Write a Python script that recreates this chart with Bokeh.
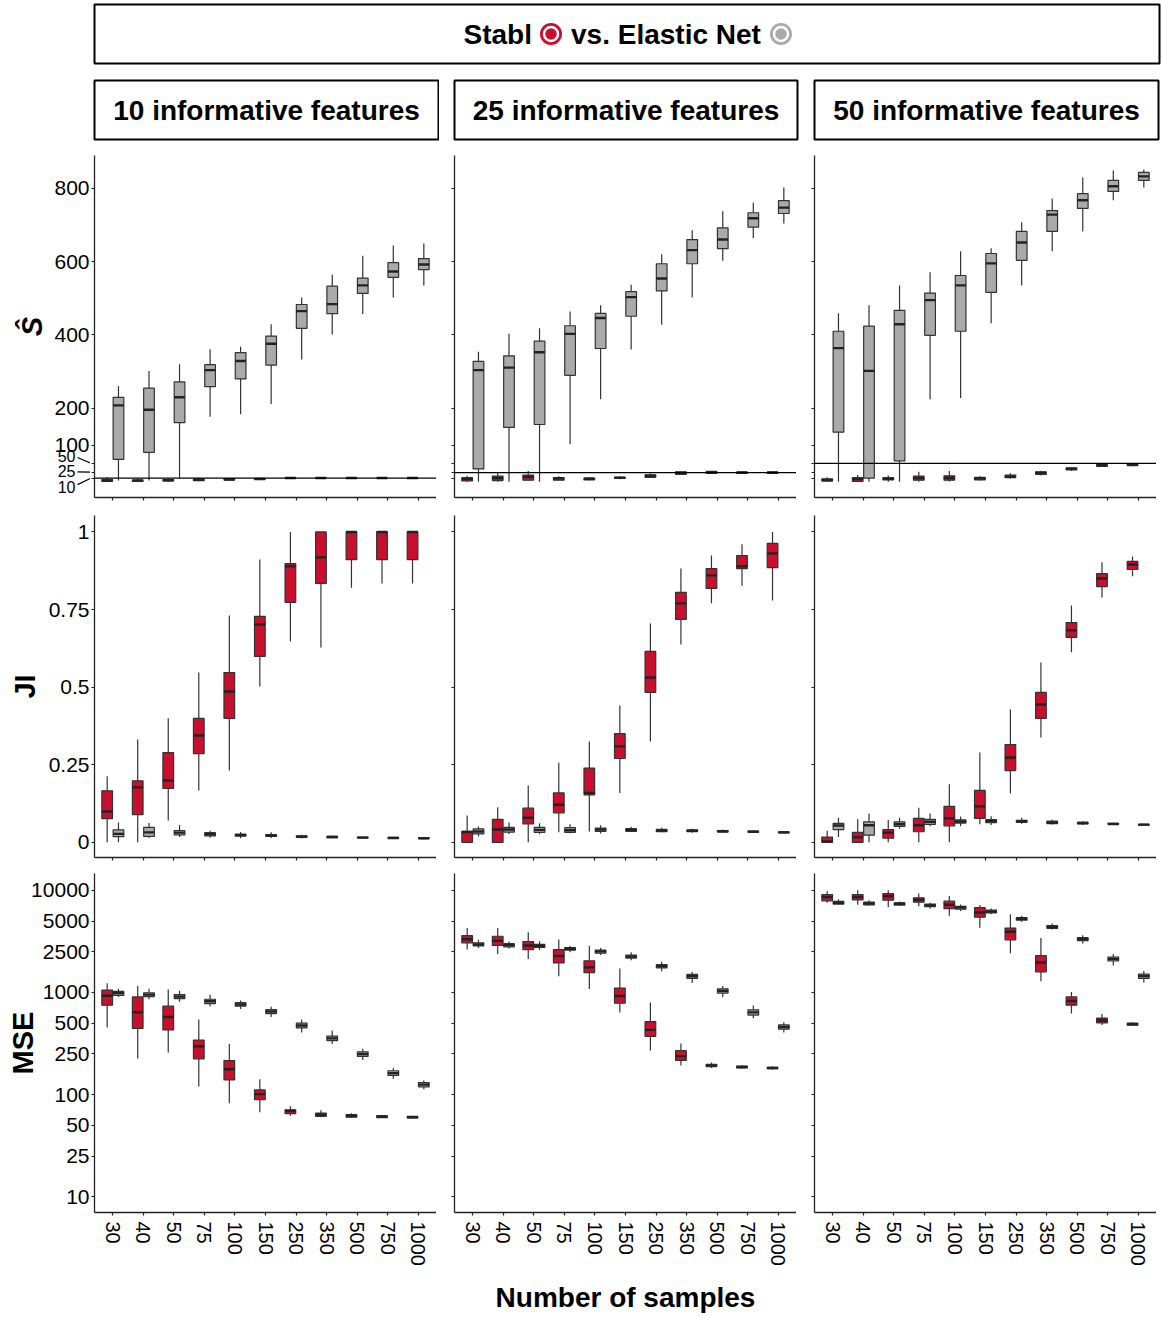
import numpy as np
from bokeh.plotting import figure
from bokeh.models import ColumnDataSource, Range1d, FixedTicker, Span, Spacer
from bokeh.layouts import column, row
from bokeh.core.properties import value
from bokeh.embed import file_html
from bokeh.resources import INLINE

FONT = "Liberation Sans"
RED = "#C8102E"
GREY = "#AAAAAA"
EDGE = "#333333"

samples = ["30", "40", "50", "75", "100", "150", "250", "350", "500", "750", "1000"]
features = [10, 25, 50]
methods = ["Stabl", "Elastic Net"]
metric_titles = ["\u015c", "JI", "MSE"]

# each row: [lower whisker, Q1, median, Q3, upper whisker] per sample size
S_stabl_10 = [[0, 1, 3, 6, 12], [0, 1, 3, 5, 8], [0, 2, 4, 6, 9], [1, 3, 5, 7, 10],
              [3, 5, 6, 8, 10], [5, 6, 7, 9, 10], [8, 9, 10, 10, 11], [9, 10, 10, 10, 11],
              [9, 10, 10, 10, 10], [9, 10, 10, 10, 10], [9, 10, 10, 10, 10]]
S_enet_10 = [[3, 61, 208, 230, 261], [3, 80, 196, 255, 302], [10, 161, 230, 272, 320],
             [177, 259, 304, 319, 361], [184, 280, 329, 352, 368], [212, 318, 376, 397, 429],
             [333, 418, 465, 483, 502], [401, 458, 484, 533, 564], [457, 513, 535, 555, 616],
             [502, 557, 573, 597, 644], [535, 578, 592, 608, 649]]
S_stabl_25 = [[0, 2, 7, 11, 16], [0, 3, 10, 15, 25], [2, 4, 13, 18, 29], [3, 4, 9, 11, 15],
              [3, 5, 8, 10, 13], [7, 9, 11, 12, 15], [11, 12, 16, 19, 23], [18, 20, 24, 27, 28],
              [21, 23, 26, 28, 29], [21, 23, 25, 26, 28], [22, 23, 25, 26, 27]]
S_enet_25 = [[0, 35, 304, 328, 354], [0, 148, 311, 343, 403], [0, 156, 353, 383, 418],
             [102, 290, 403, 425, 464], [225, 363, 446, 459, 481], [360, 451, 503, 518, 537],
             [428, 520, 554, 594, 620], [502, 594, 631, 660, 685], [602, 635, 660, 692, 737],
             [664, 694, 718, 733, 760], [704, 731, 747, 766, 802]]
S_stabl_50 = [[0, 2, 4, 8, 12], [0, 1, 7, 11, 18], [0, 5, 8, 11, 17], [0, 4, 10, 15, 27],
              [0, 4, 10, 16, 29], [3, 5, 9, 12, 15], [9, 11, 14, 18, 23], [17, 20, 24, 27, 30],
              [29, 32, 35, 38, 40], [40, 42, 45, 47, 49], [42, 44, 47, 48, 50]]
S_enet_50 = [[0, 135, 364, 410, 459], [0, 10, 302, 424, 481], [0, 57, 429, 467, 535],
             [225, 399, 495, 514, 571], [228, 410, 535, 562, 628], [432, 516, 595, 622, 636],
             [535, 603, 652, 682, 707], [628, 682, 728, 739, 772], [682, 745, 767, 785, 829],
             [767, 791, 805, 821, 848], [802, 821, 832, 843, 851]]

JI_stabl_10 = [[0, 0.076, 0.099, 0.166, 0.213], [0, 0.089, 0.177, 0.198, 0.331],
               [0.07, 0.174, 0.199, 0.289, 0.40], [0.167, 0.286, 0.344, 0.399, 0.547],
               [0.231, 0.399, 0.486, 0.547, 0.731], [0.502, 0.599, 0.702, 0.728, 0.911],
               [0.647, 0.773, 0.889, 0.898, 1.0], [0.628, 0.834, 0.918, 1.0, 1.0],
               [0.82, 0.911, 1.0, 1.0, 1.0], [0.834, 0.911, 1.0, 1.0, 1.0],
               [0.834, 0.911, 1.0, 1.0, 1.0]]
JI_enet_10 = [[0, 0.018, 0.027, 0.040, 0.064], [0.014, 0.019, 0.032, 0.048, 0.062],
              [0.017, 0.024, 0.031, 0.038, 0.056], [0.015, 0.021, 0.026, 0.031, 0.037],
              [0.013, 0.020, 0.023, 0.026, 0.033], [0.014, 0.019, 0.022, 0.025, 0.032],
              [0.012, 0.016, 0.018, 0.021, 0.024], [0.013, 0.015, 0.017, 0.019, 0.021],
              [0.012, 0.014, 0.015, 0.017, 0.018], [0.011, 0.013, 0.014, 0.016, 0.017],
              [0.010, 0.012, 0.013, 0.015, 0.016]]
JI_stabl_25 = [[0, 0, 0.033, 0.035, 0.086], [0, 0, 0.041, 0.074, 0.113],
               [0, 0.059, 0.079, 0.110, 0.183], [0.032, 0.095, 0.121, 0.159, 0.256],
               [0.035, 0.153, 0.159, 0.239, 0.325], [0.159, 0.27, 0.309, 0.35, 0.441],
               [0.325, 0.483, 0.531, 0.615, 0.705], [0.637, 0.718, 0.77, 0.805, 0.882],
               [0.77, 0.818, 0.86, 0.882, 0.924], [0.827, 0.882, 0.889, 0.924, 0.96],
               [0.779, 0.885, 0.931, 0.963, 1.0]]
JI_enet_25 = [[0.019, 0.027, 0.035, 0.043, 0.051], [0.027, 0.033, 0.041, 0.048, 0.064],
              [0.026, 0.032, 0.040, 0.048, 0.061], [0.029, 0.032, 0.039, 0.047, 0.058],
              [0.028, 0.035, 0.041, 0.046, 0.055], [0.033, 0.035, 0.040, 0.044, 0.050],
              [0.032, 0.034, 0.038, 0.042, 0.047], [0.031, 0.034, 0.037, 0.040, 0.044],
              [0.031, 0.033, 0.036, 0.038, 0.041], [0.030, 0.032, 0.034, 0.036, 0.038],
              [0.029, 0.030, 0.032, 0.034, 0.036]]
JI_stabl_50 = [[0, 0, 0.003, 0.017, 0.037], [0, 0, 0.016, 0.032, 0.074],
               [0, 0.013, 0.031, 0.041, 0.072], [0, 0.034, 0.055, 0.077, 0.111],
               [0, 0.053, 0.077, 0.116, 0.187], [0.058, 0.077, 0.116, 0.167, 0.289],
               [0.157, 0.231, 0.273, 0.315, 0.428], [0.338, 0.399, 0.444, 0.483, 0.579],
               [0.612, 0.66, 0.683, 0.708, 0.763], [0.789, 0.824, 0.85, 0.866, 0.902],
               [0.857, 0.879, 0.895, 0.905, 0.921]]
JI_enet_50 = [[0.017, 0.041, 0.054, 0.061, 0.079], [0, 0.023, 0.055, 0.066, 0.093],
              [0.044, 0.051, 0.058, 0.066, 0.079], [0.052, 0.058, 0.066, 0.074, 0.093],
              [0.052, 0.062, 0.067, 0.072, 0.083], [0.056, 0.063, 0.068, 0.073, 0.084],
              [0.060, 0.064, 0.068, 0.071, 0.079], [0.057, 0.060, 0.064, 0.068, 0.073],
              [0.056, 0.059, 0.062, 0.064, 0.068], [0.056, 0.058, 0.059, 0.061, 0.063],
              [0.054, 0.055, 0.057, 0.058, 0.060]]

MSE_stabl_10 = [[454, 750, 929, 1055, 1233], [226, 444, 639, 904, 1153], [258, 429, 574, 733, 1070],
                [120, 224, 297, 342, 542], [82, 139, 177, 215, 313], [67, 89, 101, 111, 141],
                [62, 65, 69, 71, 77], [60, 61.2, 63.5, 65.7, 70], [59, 60, 62, 63.5, 65.7],
                [59, 59.5, 61, 62, 63], [58.5, 59, 60, 61, 62]]
MSE_enet_10 = [[904, 936, 986, 1023, 1085], [857, 910, 951, 993, 1085], [808, 870, 910, 951, 1037],
               [728, 778, 819, 857, 951], [687, 733, 761, 794, 835], [576, 621, 650, 680, 725],
               [404, 450, 474, 500, 542], [313, 338, 355, 374, 424], [218, 236, 249, 262, 281],
               [143, 154, 162, 171, 182], [113, 119, 125, 131, 137]]
MSE_stabl_25 = [[2637, 3062, 3318, 3597, 4275], [2377, 2884, 3200, 3548, 4275],
                [2128, 2619, 2884, 3148, 3880], [1440, 1945, 2274, 2619, 3296],
                [1080, 1561, 1757, 2038, 2850], [637, 783, 923, 1102, 1718],
                [270, 371, 430, 518, 796], [192, 216, 238, 270, 316], [182, 188, 193, 198, 206],
                [180, 182, 186, 190, 194], [176, 179, 182, 185, 188]]
MSE_enet_25 = [[2717, 2862, 2948, 3062, 3272], [2690, 2798, 2905, 3012, 3148],
               [2595, 2753, 2850, 2948, 3172], [2480, 2595, 2680, 2753, 2850],
               [2320, 2425, 2520, 2595, 2717], [2060, 2167, 2240, 2320, 2480],
               [1615, 1740, 1805, 1875, 1995], [1237, 1374, 1440, 1503, 1584],
               [898, 986, 1037, 1086, 1153], [557, 600, 637, 676, 745], [404, 437, 458, 481, 511]]
MSE_stabl_50 = [[7550, 7880, 8570, 9084, 9780], [7210, 8050, 8570, 9084, 10000],
                [6810, 8010, 8750, 9290, 10000], [6960, 7650, 8050, 8430, 9290],
                [5617, 6600, 7210, 7830, 8790], [4300, 5450, 6060, 6760, 7170],
                [2425, 3270, 3930, 4270, 5830], [1286, 1590, 1965, 2290, 3420],
                [620, 750, 825, 904, 1010], [481, 502, 531, 561, 615], [470, 478, 489, 500, 511]]
MSE_enet_50 = [[7270, 7330, 7550, 7780, 8180], [7100, 7210, 7420, 7650, 8010],
               [7050, 7170, 7380, 7550, 7780], [6600, 6900, 7100, 7330, 7550],
               [6280, 6520, 6760, 6960, 7270], [5830, 6000, 6200, 6410, 6650],
               [4900, 5100, 5260, 5400, 5620], [4120, 4240, 4370, 4500, 4720],
               [3020, 3210, 3330, 3440, 3630], [1830, 2030, 2120, 2220, 2380],
               [1250, 1375, 1445, 1510, 1620]]

S_ticks = [10, 25, 50, 100, 200, 400, 600, 800]
JI_ticks = [0, 0.25, 0.5, 0.75, 1]
MSE_ticks = [10, 25, 50, 100, 250, 500, 1000, 2500, 5000, 10000]

panel_data = [
    [(S_stabl_10, S_enet_10), (S_stabl_25, S_enet_25), (S_stabl_50, S_enet_50)],
    [(JI_stabl_10, JI_enet_10), (JI_stabl_25, JI_enet_25), (JI_stabl_50, JI_enet_50)],
    [(MSE_stabl_10, MSE_enet_10), (MSE_stabl_25, MSE_enet_25), (MSE_stabl_50, MSE_enet_50)],
]

# ---------------- layout constants (pixels) ----------------
LEFT, GAP, PW, PH = 94, 18, 342, 342
GUTTER = 90
FIG_W = [LEFT + PW, GAP + PW, GAP + PW]
BORDER_L = [LEFT, GAP, GAP]
TOPS = [14, 9, 8]
BOTS = [9, 8, 100]
DODGE, BW = 0.185, 0.35


def no_grid(p):
    for g in list(p.center):
        g.visible = False


def style_axis(ax):
    ax.axis_line_color = "#222222"
    ax.axis_line_width = 1.3
    ax.major_tick_line_color = "#222222"
    ax.major_tick_line_width = 1.2
    ax.major_tick_in = 0
    ax.major_tick_out = 3
    ax.minor_tick_line_color = None
    ax.major_label_text_font = FONT
    ax.major_label_text_color = "black"
    ax.major_label_standoff = 2
    ax.axis_label_text_font = FONT
    ax.axis_label_text_color = "black"


def hide_labels(ax, ticks):
    ax.major_label_overrides = {t: "" for t in ticks}
    ax.major_label_text_font_size = "1px"
    ax.major_label_text_color = None
    ax.major_label_standoff = 0


def y_range_for(r):
    return [Range1d(-43, 889), Range1d(-0.049, 1.053), Range1d(7.0, 14600)][r]


def build_panel(r, c, yr):
    stabl, enet = panel_data[r][c]
    bl = 4 if (r == 0 and c == 0) else BORDER_L[c]
    w = bl + PW if c == 0 else FIG_W[c]
    p = figure(width=w, height=TOPS[r] + PH + BOTS[r],
               x_range=Range1d(0.4, len(samples) + 0.6), y_range=yr,
               y_axis_type="log" if r == 2 else "linear",
               output_backend="svg", toolbar_location=None,
               min_border_left=bl, min_border_right=0,
               min_border_top=TOPS[r], min_border_bottom=BOTS[r])
    p.outline_line_color = None
    no_grid(p)

    idx = np.arange(1, len(samples) + 1)
    xs = np.concatenate([idx - DODGE, idx + DODGE])
    arr = np.array(stabl + enet, dtype=float)
    src = ColumnDataSource(dict(
        x=xs, lw=arr[:, 0], q1=arr[:, 1], med=arr[:, 2], q3=arr[:, 3], uw=arr[:, 4],
        xl=xs - BW / 2, xr=xs + BW / 2,
        color=[RED] * len(stabl) + [GREY] * len(enet)))

    if r == 0:
        p.add_layout(Span(location=features[c], dimension="width",
                          line_color="black", line_width=1.3))

    p.segment(x0="x", y0="lw", x1="x", y1="q1", source=src, line_color=EDGE, line_width=1.2)
    p.segment(x0="x", y0="q3", x1="x", y1="uw", source=src, line_color=EDGE, line_width=1.2)
    p.vbar(x="x", width=BW, bottom="q1", top="q3", source=src,
           fill_color="color", line_color=EDGE, line_width=1.2)
    p.segment(x0="xl", y0="med", x1="xr", y1="med", source=src,
              line_color="#222222", line_width=2.4)

    xa = p.xaxis[0]
    ya = p.yaxis[0]
    style_axis(xa)
    style_axis(ya)

    xt = [int(i) for i in idx]
    xa.ticker = FixedTicker(ticks=xt)
    if r == 2:
        xa.major_label_overrides = {int(i): s for i, s in zip(idx, samples)}
        xa.major_label_text_font_size = "20px"
        xa.major_label_orientation = "vertical"
        xa.major_label_standoff = 6
        if c == 1:
            xa.axis_label = "Number of samples"
            xa.axis_label_text_font_style = "bold"
            xa.axis_label_text_font_size = "28px"
            xa.axis_label_standoff = 13
    else:
        hide_labels(xa, xt)

    ticks = [S_ticks, JI_ticks, MSE_ticks][r]
    ya.ticker = FixedTicker(ticks=ticks)
    if c == 0 and r > 0:
        if r == 1:
            ya.major_label_overrides = {t: ("%g" % t) for t in ticks}
        else:
            ya.major_label_overrides = {t: str(t) for t in ticks}
        ya.major_label_text_font_size = "21px"
        ya.axis_label = metric_titles[r]
        ya.axis_label_text_font_size = "29px"
        ya.axis_label_text_font_style = "bold"
        ya.axis_label_standoff = [0, 5, -11][r]
    else:
        hide_labels(ya, ticks)
    return p


def build_gutter(yr):
    # tick labels of the S-hat axis, including the compressed low end with leaders
    g = figure(width=GUTTER, height=TOPS[0] + PH + BOTS[0], x_range=Range1d(0, GUTTER),
               y_range=yr, x_axis_location=None, y_axis_location=None,
               min_border_left=0, min_border_right=0,
               min_border_top=TOPS[0], min_border_bottom=BOTS[0],
               output_backend="svg", toolbar_location=None)
    g.outline_line_color = None
    no_grid(g)
    right = GUTTER + 4 - 3 - 2
    big = [t for t in S_ticks if t >= 100]
    g.text(x=[right] * len(big), y=big, text=[str(t) for t in big],
           text_font=value(FONT), text_font_size="21px", text_align="right",
           text_baseline="middle", text_color="black")
    small = [t for t in S_ticks if t < 100]
    label_pos = {50: 69, 25: 29, 10: -14}
    leader = {50: (66, 51), 25: (27, 26), 10: (-8, 9)}
    g.text(x=[GUTTER + 4 - 19] * len(small), y=[label_pos[t] for t in small],
           text=[str(t) for t in small], text_font=value(FONT), text_font_size="16px",
           text_align="right", text_baseline="middle", text_color="black")
    g.segment(x0=[GUTTER + 4 - 17] * len(small), y0=[leader[t][0] for t in small],
              x1=[GUTTER + 4 - 4] * len(small), y1=[leader[t][1] for t in small],
              line_color="black", line_width=1.2)
    g.text(x=[31], y=[(yr.start + yr.end) / 2], text=[metric_titles[0]], angle=np.pi / 2,
           text_font=value(FONT), text_font_size="29px", text_font_style="bold italic",
           text_align="center", text_baseline="middle", text_color="black")
    return g


STRIP_W = [439, 360, 363]
STRIP_BL = [94, 15, 15]
STRIP_BR = [1, 2, 4]


def strip(c):
    p = figure(width=STRIP_W[c], height=76, x_range=Range1d(0, 1), y_range=Range1d(0, 1),
               x_axis_location=None, y_axis_location=None,
               min_border_left=STRIP_BL[c], min_border_right=STRIP_BR[c],
               min_border_top=15, min_border_bottom=2,
               output_backend="svg", toolbar_location=None)
    p.outline_line_color = "black"
    p.outline_line_width = 2
    no_grid(p)
    p.text(x=[0.5], y=[0.5], text=[f"{features[c]} informative features"],
           text_font=value(FONT), text_font_style="bold", text_font_size="28px",
           text_align="center", text_baseline="middle", text_color="black")
    return p


HW = 1068
header = figure(width=HW, height=65, x_range=Range1d(0, HW - 3), y_range=Range1d(0, 1),
                x_axis_location=None, y_axis_location=None,
                min_border_left=1, min_border_right=2, min_border_top=4, min_border_bottom=2,
                output_backend="svg", toolbar_location=None)
header.outline_line_color = "black"
header.outline_line_width = 2
no_grid(header)
cx = (HW - 3) / 2
header.text(x=[cx - 95], y=[0.5], text=[methods[0]], text_font=value(FONT),
            text_font_style="bold", text_font_size="28px", text_align="right",
            text_baseline="middle", text_color="black")
header.text(x=[cx - 56], y=[0.5], text=["vs. " + methods[1]], text_font=value(FONT),
            text_font_style="bold", text_font_size="28px", text_align="left",
            text_baseline="middle", text_color="black")
mk = ColumnDataSource(dict(x=[cx - 76, cx + 154], y=[0.5, 0.5], c=[RED, GREY]))
header.scatter(x="x", y="y", size=22, fill_color="c", line_color=None, source=mk)
header.scatter(x="x", y="y", size=14, fill_color=None, line_color="white",
               line_width=2.5, source=mk)

rows = []
for r in range(3):
    yr = y_range_for(r)
    panels = [build_panel(r, c, yr if c == 0 else y_range_for(r)) for c in range(3)]
    if r == 0:
        rows.append(row(build_gutter(yr), *panels))
    else:
        rows.append(row(*panels))

layout = column(row(Spacer(width=LEFT - 1, height=65), header),
                row(*[strip(c) for c in range(3)]),
                *rows)

open("out.html", "w").write(file_html(layout, INLINE))
